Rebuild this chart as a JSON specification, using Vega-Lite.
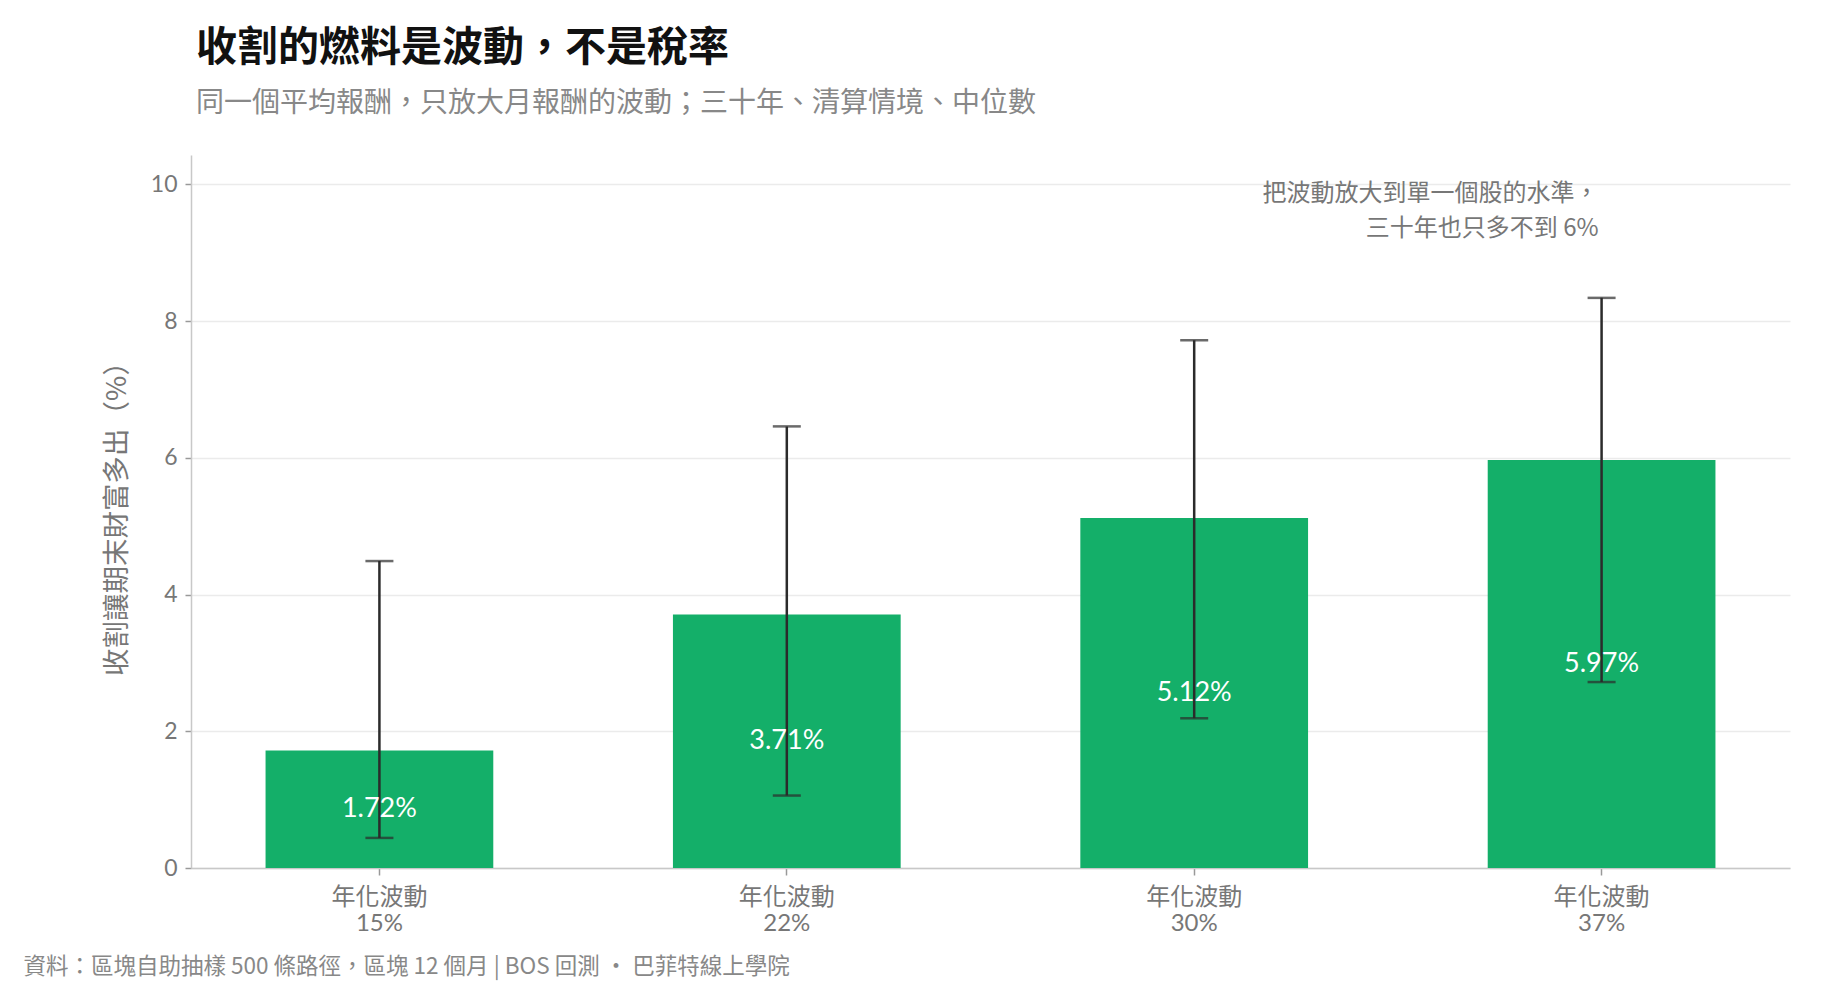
{
  "$schema": "https://vega.github.io/schema/vega-lite/v6.json",
  "width": 1599,
  "height": 713,
  "autosize": "none",
  "padding": {"left": 191, "top": 155, "right": 46, "bottom": 135},
  "background": "white",
  "title": {
    "text": "收割的燃料是波動，不是稅率",
    "subtitle": "同一個平均報酬，只放大月報酬的波動；三十年、清算情境、中位數",
    "anchor": "start",
    "frame": "group",
    "dx": 5,
    "offset": 36,
    "font": "Noto Sans CJK TC",
    "fontSize": 41,
    "fontWeight": 600,
    "color": "#111111",
    "subtitleFont": "Noto Sans CJK TC",
    "subtitleFontSize": 28,
    "subtitleColor": "#888888",
    "subtitlePadding": 20
  },
  "config": {
    "font": "Lato, Noto Sans CJK TC",
    "view": {"stroke": null}
  },
  "data": {
    "values": [
      {"vol": "年化波動\n15%", "gain": 1.72, "low": 0.44, "high": 4.49, "label": "1.72%"},
      {"vol": "年化波動\n22%", "gain": 3.71, "low": 1.06, "high": 6.46, "label": "3.71%"},
      {"vol": "年化波動\n30%", "gain": 5.12, "low": 2.19, "high": 7.72, "label": "5.12%"},
      {"vol": "年化波動\n37%", "gain": 5.97, "low": 2.72, "high": 8.34, "label": "5.97%"}
    ]
  },
  "layer": [
    {
      "encoding": {
        "x": {
          "field": "vol",
          "type": "nominal",
          "sort": null,
          "scale": {"paddingInner": 0.441, "paddingOuter": 0.183},
          "axis": {
            "labelAngle": 0,
            "labelExpr": "split(datum.label, '\\n')",
            "labelFontSize": 24,
            "labelColor": "#777777",
            "labelLineHeight": 26,
            "labelPadding": 10,
            "tickSize": 7,
            "tickColor": "#999999",
            "tickWidth": 1.5,
            "domainColor": "#c8c8c8",
            "domainWidth": 1.5,
            "grid": false,
            "title": "資料：區塊自助抽樣 500 條路徑，區塊 12 個月 | BOS 回測 ·  巴菲特線上學院",
            "titleFont": "Noto Sans CJK TC",
            "titleFontSize": 22.5,
            "titleFontWeight": "normal",
            "titleColor": "#888888",
            "titleAnchor": "start",
            "titleAlign": "left",
            "titleBaseline": "alphabetic",
            "titleX": -168,
            "titleY": 105
          }
        }
      },
      "layer": [
        {
          "mark": {"type": "bar", "color": "#14af69"},
          "encoding": {
            "y": {
              "field": "gain",
              "type": "quantitative",
              "scale": {"domain": [0, 10.43], "nice": false},
              "axis": {
                "values": [0, 2, 4, 6, 8, 10],
                "format": "d",
                "title": "收割讓期末財富多出（%）",
                "titleFont": "Noto Sans CJK TC",
                "titleFontSize": 27.5,
                "titleFontWeight": "normal",
                "titleColor": "#777777",
                "titlePadding": 19,
                "labelFontSize": 23,
                "labelColor": "#777777",
                "labelPadding": 8,
                "tickSize": 6,
                "tickColor": "#999999",
                "tickWidth": 1.5,
                "gridColor": "#ebebeb",
                "gridWidth": 1.5,
                "domainColor": "#c8c8c8",
                "domainWidth": 1.5
              }
            }
          }
        },
        {
          "mark": {"type": "rule", "color": "#2b2b2b", "strokeWidth": 2.5},
          "encoding": {
            "y": {"field": "low", "type": "quantitative"},
            "y2": {"field": "high"}
          }
        },
        {
          "mark": {"type": "tick", "color": "#2b2b2b", "thickness": 2.5, "size": 28, "orient": "horizontal"},
          "encoding": {"y": {"field": "low", "type": "quantitative"}}
        },
        {
          "mark": {"type": "tick", "color": "#2b2b2b", "thickness": 2.5, "size": 28, "orient": "horizontal"},
          "encoding": {"y": {"field": "high", "type": "quantitative"}}
        },
        {
          "data": {"values": [{"note": "annotation line 1"}]},
          "mark": {
            "type": "text",
            "align": "right",
            "baseline": "middle",
            "dx": -3,
            "font": "Noto Sans CJK TC",
            "fontSize": 24,
            "color": "#777777",
            "text": "把波動放大到單一個股的水準，"
          },
          "encoding": {
            "x": {"datum": "年化波動\n37%", "type": "nominal"},
            "y": {"datum": 9.86, "type": "quantitative"}
          }
        },
        {
          "data": {"values": [{"note": "annotation line 2"}]},
          "mark": {
            "type": "text",
            "align": "right",
            "baseline": "middle",
            "dx": -3,
            "font": "Noto Sans CJK TC",
            "fontSize": 24,
            "color": "#777777",
            "text": "三十年也只多不到 6%"
          },
          "encoding": {
            "x": {"datum": "年化波動\n37%", "type": "nominal"},
            "y": {"datum": 9.35, "type": "quantitative"}
          }
        }
      ]
    },
    {
      "mark": {"type": "text", "color": "white", "fontSize": 27, "baseline": "middle", "align": "center"},
      "encoding": {
        "x": {"field": "vol", "type": "nominal", "sort": null},
        "y": {
          "field": "gain",
          "type": "quantitative",
          "scale": {"domain": [0, 20.86], "nice": false},
          "axis": null
        },
        "text": {"field": "label"}
      }
    }
  ],
  "resolve": {"scale": {"y": "independent"}}
}
